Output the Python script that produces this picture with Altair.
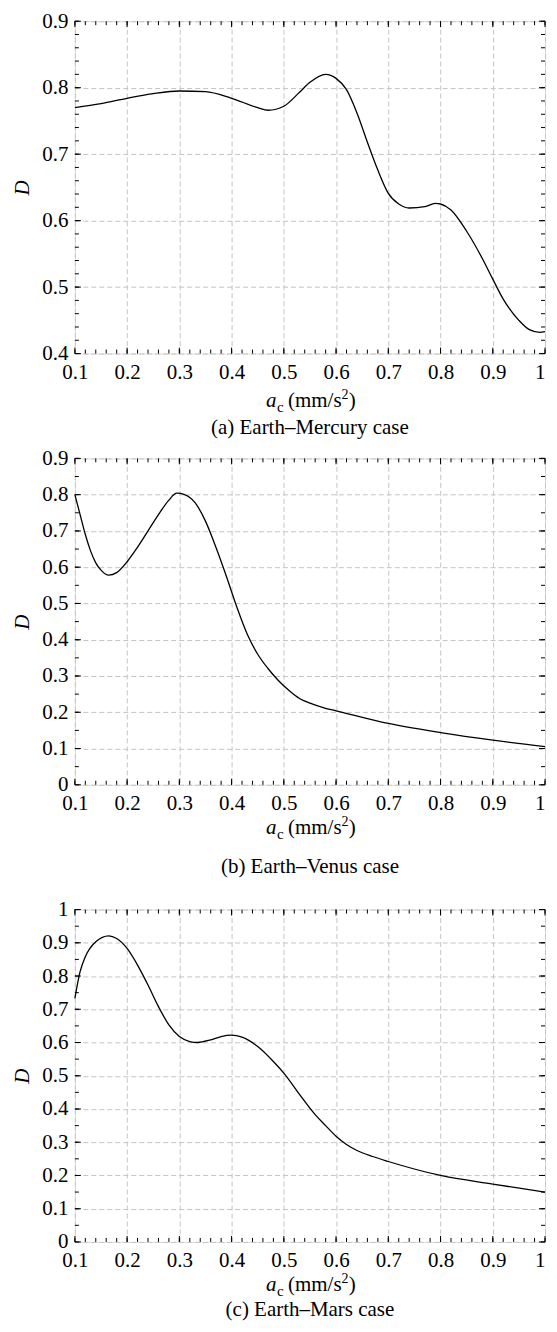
import altair as alt
import pandas as pd

FONT = "Liberation Serif, Times New Roman, serif"

# ---------------- data ----------------
captions = ["(a) Earth\u2013Mercury case", "(b) Earth\u2013Venus case", "(c) Earth\u2013Mars case"]

a_x = [0.10, 0.15, 0.20, 0.25, 0.30, 0.35, 0.40, 0.45, 0.47, 0.50, 0.53, 0.55, 0.58, 0.60,
       0.62, 0.64, 0.66, 0.68, 0.70, 0.72, 0.74, 0.77, 0.79, 0.80, 0.82, 0.85, 0.88, 0.90,
       0.92, 0.95, 0.97, 0.99, 1.00]
a_y = [0.770, 0.776, 0.784, 0.791, 0.795, 0.794, 0.784, 0.770, 0.766, 0.772, 0.793, 0.808,
       0.820, 0.814, 0.797, 0.762, 0.718, 0.676, 0.641, 0.625, 0.619, 0.621, 0.626, 0.625,
       0.616, 0.584, 0.543, 0.512, 0.482, 0.450, 0.436, 0.432, 0.433]

b_x = [0.10, 0.11, 0.12, 0.13, 0.14, 0.15, 0.165, 0.18, 0.20, 0.22, 0.24, 0.26, 0.28, 0.295,
       0.31, 0.33, 0.35, 0.37, 0.39, 0.41, 0.43, 0.45, 0.47, 0.49, 0.51, 0.53, 0.55, 0.58,
       0.60, 0.70, 0.80, 0.90, 1.00]
b_y = [0.800, 0.745, 0.690, 0.645, 0.612, 0.592, 0.578, 0.585, 0.615, 0.655, 0.700, 0.745,
       0.785, 0.804, 0.800, 0.778, 0.727, 0.655, 0.575, 0.490, 0.415, 0.360, 0.320, 0.287,
       0.260, 0.238, 0.225, 0.211, 0.204, 0.169, 0.144, 0.123, 0.105]

c_x = [0.10, 0.11, 0.12, 0.14, 0.165, 0.18, 0.20, 0.22, 0.24, 0.26, 0.28, 0.30, 0.32, 0.335,
       0.36, 0.38, 0.40, 0.42, 0.45, 0.48, 0.50, 0.53, 0.56, 0.58, 0.60, 0.62, 0.64, 0.67,
       0.70, 0.80, 0.90, 1.00]
c_y = [0.733, 0.813, 0.858, 0.903, 0.921, 0.913, 0.883, 0.833, 0.773, 0.708, 0.653, 0.618,
       0.603, 0.600, 0.608, 0.618, 0.622, 0.616, 0.588, 0.543, 0.508, 0.444, 0.383, 0.350,
       0.318, 0.293, 0.275, 0.257, 0.242, 0.200, 0.174, 0.150]

x_major = [0.1, 0.2, 0.3, 0.4, 0.5, 0.6, 0.7, 0.8, 0.9, 1.0]
x_minor = [round(0.1 + 0.02 * i, 2) for i in range(46)]

a_ymajor = [0.4, 0.5, 0.6, 0.7, 0.8, 0.9]
a_yminor = [round(0.4 + 0.02 * i, 2) for i in range(26)]
b_ymajor = [0.0, 0.1, 0.2, 0.3, 0.4, 0.5, 0.6, 0.7, 0.8, 0.9]
b_yminor = [round(0.05 * i, 2) for i in range(19)]
c_ymajor = [0.0, 0.1, 0.2, 0.3, 0.4, 0.5, 0.6, 0.7, 0.8, 0.9, 1.0]
c_yminor = [round(0.05 * i, 2) for i in range(21)]

W = 471
FS = 21


def txt(s, x, y, size=FS, style="normal", align="left"):
    return alt.Chart(pd.DataFrame({"s": [s]})).mark_text(
        font=FONT, fontSize=size, fontStyle=style, align=align, baseline="alphabetic", color="black"
    ).encode(text="s:N", x=alt.value(x), y=alt.value(y))


def panel(xs, ys, ydom, ymajor, yminor, H, caption, xt_off, cap_off):
    df = pd.DataFrame({"x": xs, "y": ys})
    xsc = alt.Scale(domain=[0.1, 1.0], nice=False, zero=False)
    ysc = alt.Scale(domain=ydom, nice=False, zero=False)
    xaxis = alt.Axis(values=x_major, format="~g", grid=True, ticks=False, domain=False,
                     labelPadding=8, labelFontSize=FS, labelFont=FONT, labelColor="black",
                     labelAlign={"condition": {"test": "datum.value >= 0.999", "value": "right"},
                                 "value": "center"},
                     gridDash=[5, 3], gridColor="#c4c4c4", gridWidth=1, labelFlush=False)
    yaxis = alt.Axis(values=ymajor, format="~g", grid=True, ticks=False, domain=False,
                     labelPadding=7, labelFontSize=FS, labelFont=FONT, labelColor="black",
                     gridDash=[5, 3], gridColor="#c4c4c4", gridWidth=1, labelFlush=False,
                     titleFont=FONT, titleFontSize=FS, titleFontStyle="italic",
                     titleFontWeight="normal", titleColor="black", titlePadding=9)

    line = alt.Chart(df).mark_line(color="black", strokeWidth=1.3, interpolate="monotone").encode(
        x=alt.X("x:Q", scale=xsc, title=None, axis=xaxis),
        y=alt.Y("y:Q", scale=ysc, title="D", axis=yaxis),
    )

    def xticks(vals, L):
        d = pd.DataFrame({"t": vals})
        xe = alt.X("t:Q", scale=xsc, title=None, axis=xaxis)
        top = alt.Chart(d).mark_rule(color="black", strokeWidth=1).encode(
            x=xe, y=alt.value(0), y2=alt.value(L))
        bot = alt.Chart(d).mark_rule(color="black", strokeWidth=1).encode(
            x=xe, y=alt.value(H), y2=alt.value(H - L))
        return [top, bot]

    def yticks(vals, L):
        d = pd.DataFrame({"t": vals})
        ye = alt.Y("t:Q", scale=ysc, title="D", axis=yaxis)
        left = alt.Chart(d).mark_rule(color="black", strokeWidth=1).encode(
            y=ye, x=alt.value(0), x2=alt.value(L))
        right = alt.Chart(d).mark_rule(color="black", strokeWidth=1).encode(
            y=ye, x=alt.value(W), x2=alt.value(W - L))
        return [left, right]

    x0 = W / 2 - 44
    yb = H + xt_off
    title_parts = [
        txt("a", x0, yb, style="italic"),
        txt("c", x0 + 11, yb + 5, size=15),
        txt("(mm/s", x0 + 22, yb),
        txt("2", x0 + 75.5, yb - 8, size=14),
        txt(")", x0 + 83, yb),
        txt(caption, W / 2, H + cap_off, align="center"),
    ]

    layers = [line] + xticks(x_minor, 4) + xticks(x_major, 6) + yticks(yminor, 4) + yticks(ymajor, 6) \
        + title_parts
    return alt.layer(*layers).properties(width=W, height=H)


p1 = panel(a_x, a_y, [0.4, 0.9], a_ymajor, a_yminor, 333, captions[0], 54, 81)
p2 = panel(b_x, b_y, [0.0, 0.9], b_ymajor, b_yminor, 327, captions[1], 49, 88)
p3 = panel(c_x, c_y, [0.0, 1.0], c_ymajor, c_yminor, 333, captions[2], 49, 74)

chart = alt.vconcat(alt.vconcat(p1, p2, spacing=7), p3, spacing=20).properties(
    padding={"left": 3, "top": 0, "right": 0, "bottom": 0}
).configure_view(stroke="black", strokeWidth=1.6).configure(background="white")

chart.save("out.html", embed_options={"renderer": "svg", "actions": False})
